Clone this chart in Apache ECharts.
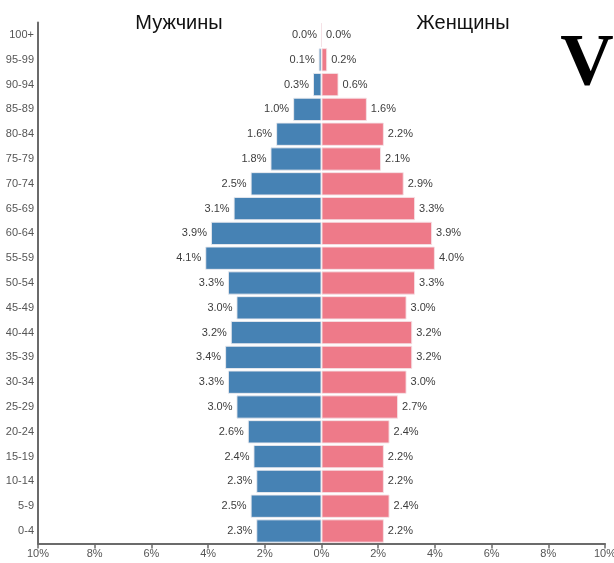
<!DOCTYPE html>
<html>
<head>
<meta charset="utf-8">
<script src="https://cdn.jsdelivr.net/npm/echarts@6/dist/echarts.min.js"></script>
<style>
html, body { margin: 0; padding: 0; background: #fff; overflow: hidden; }
#chart { width: 614px; height: 563px; }
</style>
</head>
<body>
<div id="chart"></div>
<script>
// возрастные группы сверху вниз
let ages = ['100+', '95-99', '90-94', '85-89', '80-84', '75-79', '70-74', '65-69', '60-64', '55-59',
    '50-54', '45-49', '40-44', '35-39', '30-34', '25-29', '20-24', '15-19', '10-14', '5-9', '0-4']
let male = [0.0, 0.1, 0.3, 1.0, 1.6, 1.8, 2.5, 3.1, 3.9, 4.1, 3.3, 3.0, 3.2, 3.4, 3.3, 3.0, 2.6, 2.4, 2.3, 2.5, 2.3]
let female = [0.0, 0.2, 0.6, 1.6, 2.2, 2.1, 2.9, 3.3, 3.9, 4.0, 3.3, 3.0, 3.2, 3.2, 3.0, 2.7, 2.4, 2.2, 2.2, 2.4, 2.2]
let xTicks = { min: -10, max: 10, step: 2 }

let mychart = echarts.init(document.getElementById('chart'))
let font = 'Liberation Sans, Arial, sans-serif'
let labelStyle = {
    show: true,
    fontSize: 11,
    color: '#3d3d3d',
    fontFamily: font,
    distance: 4,
    formatter: (p) => Math.abs(p.value).toFixed(1) + '%'
}
let options = {
    animation: false,
    grid: { left: 38, right: 9, top: 22.6, bottom: 19.6, containLabel: false, outerBoundsMode: 'none' },
    title: [
        { text: 'Мужчины', left: 174, top: 8, textAlign: 'center',
          textStyle: { fontSize: 20, fontWeight: 'normal', color: '#111', fontFamily: font } },
        { text: 'Женщины', left: 458, top: 8, textAlign: 'center',
          textStyle: { fontSize: 20, fontWeight: 'normal', color: '#111', fontFamily: font } },
        { text: 'V', left: 582, top: 24, textAlign: 'center',
          textStyle: { fontSize: 74, fontWeight: 'bold', color: '#000', fontFamily: 'Liberation Serif, Times New Roman, serif' } }
    ],
    xAxis: {
        type: 'value',
        min: xTicks.min,
        max: xTicks.max,
        interval: xTicks.step,
        splitLine: { show: false },
        axisLine: { show: true, onZero: false, lineStyle: { color: '#6b6b6b', width: 2 } },
        axisTick: { show: true, length: 5, lineStyle: { color: '#6b6b6b', width: 1.5 } },
        axisLabel: {
            color: '#555', fontSize: 11, margin: 5,
            fontFamily: font,
            formatter: (v) => Math.abs(v) + '%'
        }
    },
    yAxis: {
        type: 'category',
        data: ages,
        inverse: true,
        axisLine: { show: true, onZero: false, lineStyle: { color: '#6b6b6b', width: 2 } },
        axisTick: { show: false },
        axisLabel: { color: '#555', fontSize: 11, margin: 4, fontFamily: font }
    },
    series: [
        {
            name: 'Мужчины',
            type: 'bar',
            stack: 'all',
            barCategoryGap: '6%',
            data: male.map((v) => -v),
            itemStyle: { color: '#4682b4', borderColor: 'rgba(235,235,240,0.9)', borderWidth: 1 },
            label: Object.assign({}, labelStyle, { position: 'left' })
        },
        {
            name: 'Женщины',
            type: 'bar',
            stack: 'all',
            barCategoryGap: '6%',
            data: female,
            itemStyle: { color: '#ee7a89', borderColor: 'rgba(245,225,230,0.9)', borderWidth: 1 },
            label: Object.assign({}, labelStyle, { position: 'right' })
        }
    ]
}
mychart.setOption(options)
</script>
</body>
</html>
